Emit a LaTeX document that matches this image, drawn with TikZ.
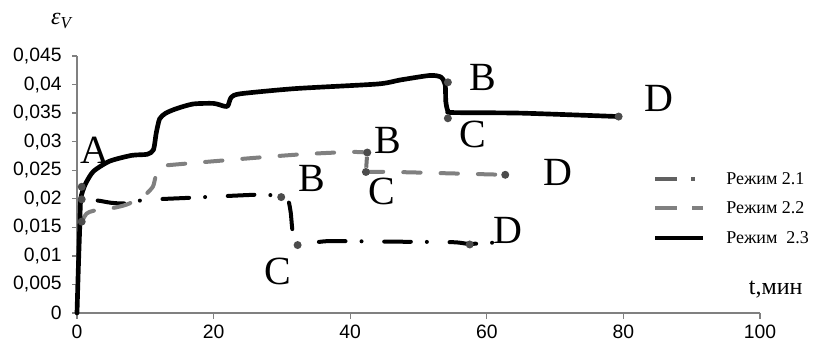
\documentclass[tikz,border=0pt]{standalone}
\usepackage{fontspec}
\setmainfont{Liberation Serif}
\newfontfamily\ticksfont{Liberation Sans}
\begin{document}
\begin{tikzpicture}[x=5.1225pt, y=4.283pt, line join=round,
    axisline/.style={draw=black!50, line width=1pt},
    ticklbl/.style={font=\ticksfont\fontsize{14.5}{15}\selectfont},
    ptlbl/.style={font=\fontsize{30}{30}\selectfont, inner sep=0pt},
    legtxt/.style={font=\fontsize{13.5}{13.5}\selectfont, anchor=west, inner sep=0pt},
    ptdot/.style={circle, fill=black!70, inner sep=0pt, minimum size=6pt},
    regimeA/.style={line width=3pt, line cap=round, dash pattern=on 20pt off 12pt on 0pt off 17pt, dash phase=37pt},
    regimeB/.style={draw=black!50, line width=3pt, line cap=round, dash pattern=on 13pt off 15pt},
    regimeC/.style={line width=3.5pt, line cap=round}]
    \useasboundingbox (-57.75pt,-23.25pt) rectangle (552pt,234.75pt);
    \draw[axisline] (0,45) -- (0,0) -- (100,0);
    \node[ticklbl, anchor=east] (y0) at ([xshift=-8pt]0,0) {0};
    \draw[axisline] (0,0) -- ++(-3.75pt,0);
    \foreach \v/\lbl in {5/005,10/01,15/015,20/02,25/025,30/03,35/035,40/04,45/045} {
      \draw[axisline] (0,\v) -- ++(-3.75pt,0);
      \node[ticklbl, anchor=east] (y\v) at ([xshift=-8pt]0,\v) {0,\lbl};
    }
    \foreach \t in {0,20,40,60,80,100} {
      \draw[axisline] (\t,0) -- ++(0,-4.5pt);
      \node[ticklbl, anchor=north] (x\t) at ([yshift=-5.5pt]\t,0) {\t};
    }
    \node[inner sep=0pt, font=\fontsize{18}{18}\selectfont\itshape] (eps) at (-2.3,51.1) {ε\textsubscript{V}};
    \node (tmin) at (524pt,17.25pt) {\fontsize{18}{18}\selectfont t,мин};

    \draw[regimeA] plot[smooth, tension=0.4] coordinates {(0.69,19.9) (3,19.7) (5,19.3) (7,19.2) (10,19.8)
      (17,20.2) (26,20.7) (29,20.6) (30.6,20.4) (31,19.5) (31.3,17.5) (31.6,14) (32.3,11.9) (34,12.2)
      (37,12.6) (45,12.5) (55,12.4) (57.5,12.1) (62,12.4)};
    \draw[regimeB] plot[smooth, tension=0.4] coordinates {(0.69,16.0) (1.4,17.4) (2.4,17.9) (5.3,18.4)
      (7.3,19.0) (9.7,20.4) (11.1,22.1) (11.5,23.8) (12.3,25.6) (13.5,25.9) (25.3,27.1) (33,27.8)
      (40,28.2) (42.5,28.1)};
    \draw[regimeB] plot[smooth, tension=0.4] coordinates {(42.3,24.7) (46.3,24.7) (62.7,24.2)};
    \draw[regimeC] plot[smooth, tension=0.4] coordinates {(0,0) (0.2,8) (0.4,15) (0.55,20) (1.2,22.5)
      (2.4,24.8) (4.8,26.6) (8,27.6) (10.3,27.8) (11.2,28.6) (11.6,31.5) (12.1,34) (13,35) (14.6,35.8)
      (17,36.6) (20,36.7) (21.6,36.2) (22.1,36.3) (22.6,37.8) (24,38.4) (32,39.3) (44,40.1) (47.3,40.8)
      (51.7,41.6) (53.3,41.3) (53.9,40) (54,37) (54.3,35.4) (55,35.1) (65,35.0) (79.3,34.4)};

    \node[ptdot] (a1) at (0.69,22.1) {};
    \node[ptdot] (a2) at (0.69,19.9) {};
    \node[ptdot] (a3) at (0.69,16.0) {};
    \node[ptdot] (b1) at (29.9,20.3) {};
    \node[ptdot] (c1) at (32.3,11.9) {};
    \node[ptdot] (d1) at (57.5,12.0) {};
    \node[ptdot] (b2) at (42.5,28.1) {};
    \node[ptdot] (c2) at (42.3,24.7) {};
    \node[ptdot] (d2) at (62.7,24.2) {};
    \node[ptdot] (b3) at (54.3,40.4) {};
    \node[ptdot] (c3) at (54.3,34.1) {};
    \node[ptdot] (d3) at (79.3,34.4) {};
    \draw[draw=black!55, line width=3pt] (b2) -- (c2);

    \node[ptlbl] (labA) at (2.6,28.5) {A};
    \node[ptlbl] (labB1) at (34.4,23.6) {B};
    \node[ptlbl] (labC1) at (29.4,7.2) {C};
    \node[ptlbl] (labD1) at (63.1,14.5) {D};
    \node[ptlbl] (labB2) at (45.5,30.3) {B};
    \node[ptlbl] (labC2) at (44.6,21.2) {C};
    \node[ptlbl] (labD2) at (70.4,24.7) {D};
    \node[ptlbl] (labB3) at (59.4,41.3) {B};
    \node[ptlbl] (labC3) at (58,31.2) {C};
    \node[ptlbl] (labD3) at (85.2,37.5) {D};

    \draw[draw=black!62, line width=3pt, dash pattern=on 16.5pt off 10.5pt on 3pt] (433.5pt,100.5pt) -- (463.5pt,100.5pt);
    \draw[draw=black!50, line width=3pt, dash pattern=on 16.5pt off 11.25pt] (433.5pt,78.75pt) -- (469.5pt,78.75pt);
    \draw[line width=3.5pt] (433.5pt,56.25pt) -- (469.5pt,56.25pt);
    \node[legtxt] (leg1) at (486.75pt,100.5pt) {Режим 2.1};
    \node[legtxt] (leg2) at (486.75pt,78.75pt) {Режим 2.2};
    \node[legtxt] (leg3) at (486.75pt,56.25pt) {Режим~~2.3};
  \end{tikzpicture}
\end{document}
